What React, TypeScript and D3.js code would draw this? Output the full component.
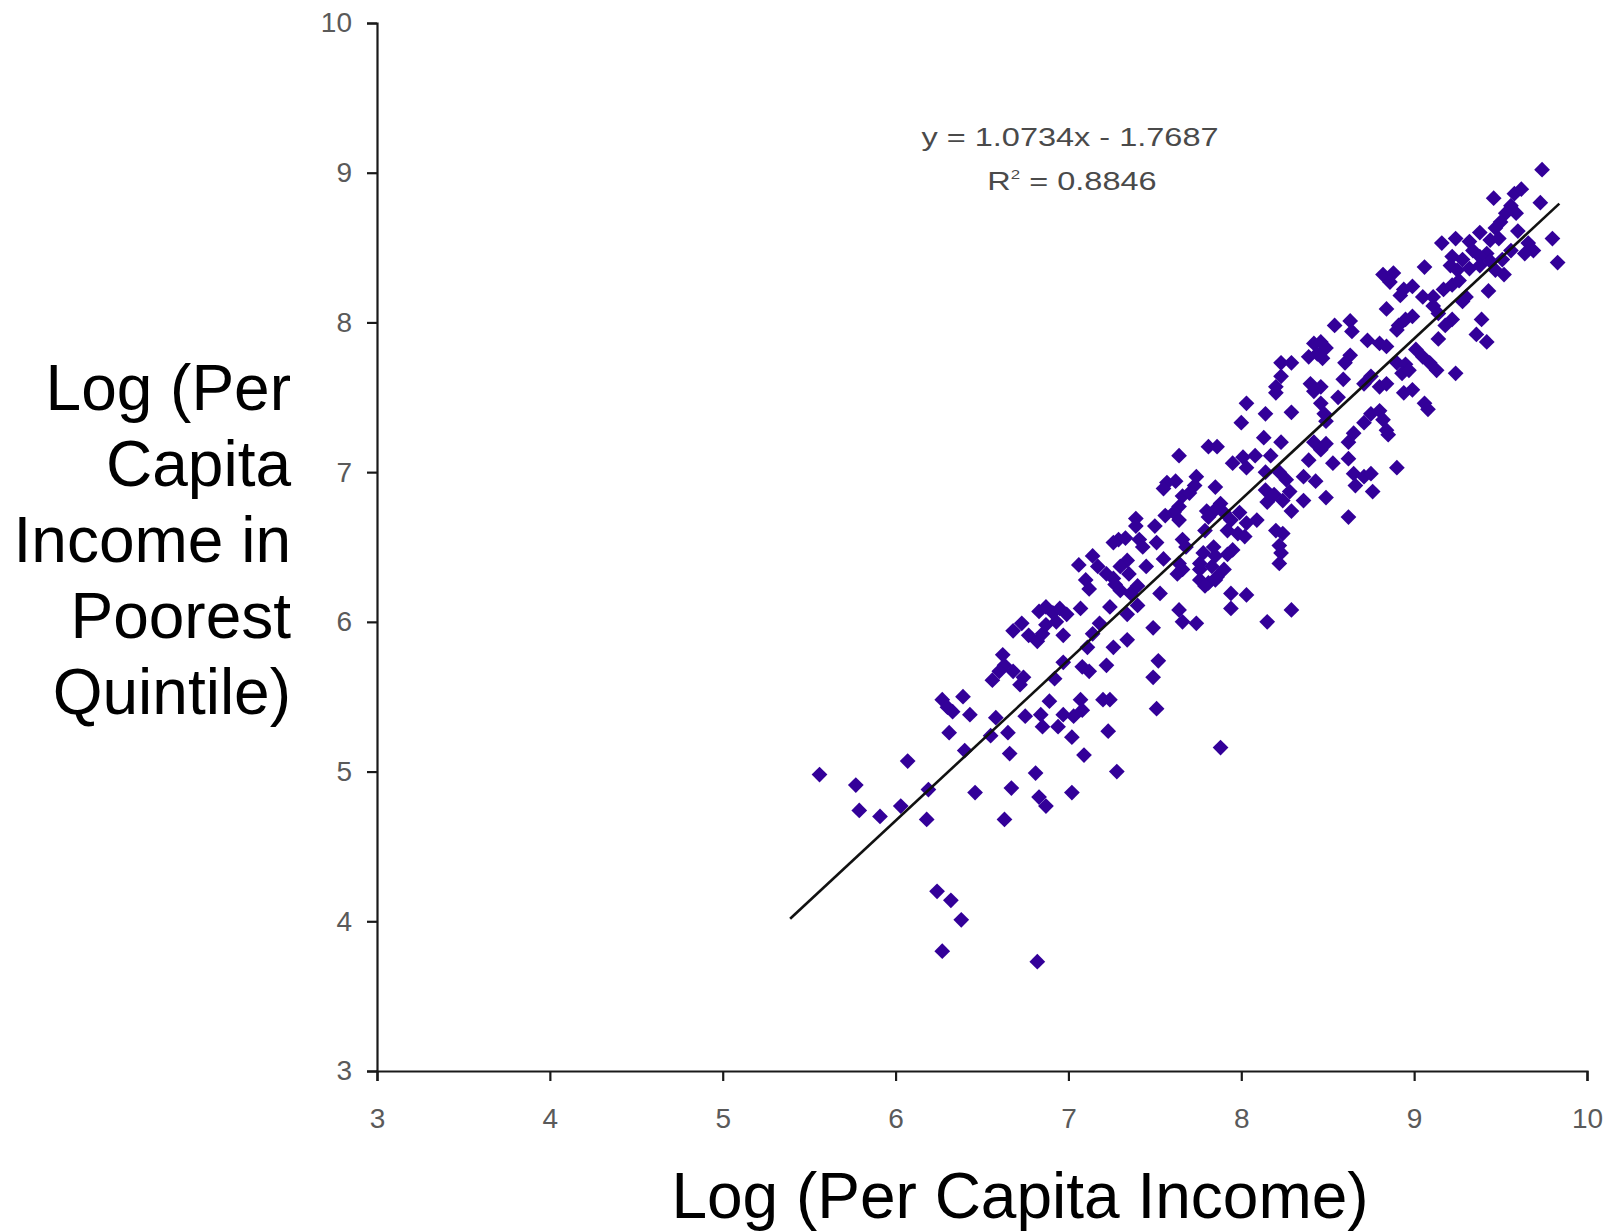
import React, { useEffect, useRef } from "react";
import * as d3 from "d3";

const xTicks = [3, 4, 5, 6, 7, 8, 9, 10];
const yTicks = [3, 4, 5, 6, 7, 8, 9, 10];

// Log (per capita income)
const incomeLog = [
  5.56, 5.77, 5.79, 5.91, 6.03, 6.07, 6.19, 6.18, 6.24, 6.32, 6.38, 6.27, 6.82, 6.63, 6.46, 6.67, 6.81, 6.83, 6.87, 7.02,
  7.28, 7.09, 7.23, 7.02, 6.66, 6.40, 6.31, 6.55, 6.65, 6.58, 6.43, 6.39, 6.27, 6.30, 6.33, 6.75, 6.84, 6.85, 6.89, 6.94,
  6.97, 7.03, 7.08, 7.07, 7.20, 7.24, 7.51, 7.49, 7.52, 7.49, 7.64, 7.66, 7.74, 7.22, 7.08, 7.12, 6.97, 6.92, 7.11, 7.26,
  7.34, 7.18, 7.34, 7.40, 7.24, 7.07, 6.97, 7.14, 6.62, 6.63, 6.60, 6.56, 6.68, 6.74, 6.72, 6.68, 6.73, 6.77, 6.82, 6.85,
  6.87, 6.93, 6.83, 6.87, 6.91, 6.95, 6.99,
  7.64, 7.81, 7.57, 7.62, 7.55, 7.74, 7.73, 7.66, 7.70, 7.64, 7.61, 7.64, 7.56, 7.39, 7.39, 7.50, 7.80, 7.79, 7.29, 7.26,
  7.33, 7.41, 7.43, 7.51, 7.66, 7.68, 7.55, 7.64, 7.66, 7.63, 7.78, 7.76, 7.76, 7.45, 7.34, 7.30, 7.35, 7.14, 7.17, 7.22,
  7.26, 7.06, 7.10, 7.12, 7.27, 7.30, 7.36, 7.40, 7.53,
  7.86, 8.13, 8.23, 8.17, 7.95, 8.01, 8.03, 8.08, 7.85, 8.14, 8.22, 8.26, 8.14, 8.19, 8.15, 8.28, 8.24, 8.36, 8.43, 8.36,
  8.29, 8.42, 8.49, 8.46, 8.39, 8.53, 8.62, 8.62, 8.65, 8.71, 8.66, 8.75, 8.76, 8.49, 8.62, 8.90, 8.85, 7.88, 7.85, 7.81,
  7.90, 7.94, 7.99, 8.03, 8.09, 7.92, 7.98, 8.02, 8.20, 8.24, 8.22, 8.23, 8.22, 7.84, 7.85, 7.92, 7.95, 7.76, 7.83, 7.90,
  7.86, 7.81, 7.79, 7.85, 7.94, 8.03, 7.94, 8.29, 8.15, 7.88,
  8.82, 8.88, 8.86, 8.94, 8.92, 8.84, 8.91, 8.90, 8.95, 8.54, 8.63, 8.64, 8.42, 8.46, 8.49, 8.44, 8.39, 8.47, 8.23, 8.29,
  8.63, 8.60, 8.73, 8.80, 8.84, 8.90, 8.95, 8.93, 8.23, 8.20, 8.20, 8.40, 8.46, 8.42, 8.59, 8.71, 8.75, 8.80, 8.84, 8.94,
  8.03, 8.00, 8.14, 8.29, 8.46, 8.48, 8.49, 8.56, 8.75, 8.80, 8.82, 8.84, 8.71, 8.65,
  9.74, 9.46, 9.58, 9.62, 9.73, 9.56, 9.59, 9.53, 9.50, 9.47, 9.60, 9.80, 9.83, 9.66, 9.69, 9.64, 9.16, 9.24, 9.32, 9.38,
  9.44, 9.49, 9.34, 9.42, 9.38, 9.22, 9.28, 9.21, 9.25, 9.32, 9.38, 9.44, 9.51, 9.56, 9.52, 9.47, 9.06, 8.99, 9.05, 9.11,
  9.17, 9.22, 9.26, 9.11, 9.14, 9.30, 9.28, 9.43, 8.99, 9.22, 9.18, 9.39, 9.14, 9.36, 9.42, 9.01, 9.05, 9.09, 9.13, 8.97,
  9.24, 9.06, 9.08, 8.99,
];

// Log (per capita income in poorest quintile)
const poorestLog = [
  4.98, 4.91, 4.74, 4.70, 4.77, 5.07, 4.88, 4.68, 4.20, 4.14, 4.01, 3.80, 3.73, 4.68, 4.86, 4.89, 4.99, 4.83, 4.77, 4.86,
  5.00, 5.11, 5.27, 5.23, 5.12, 5.14, 5.26, 5.24, 5.26, 5.36, 5.38, 5.50, 5.48, 5.43, 5.40, 5.37, 5.38, 5.30, 5.47, 5.30,
  5.38, 5.37, 5.41, 5.48, 5.48, 5.48, 5.42, 5.63, 5.74, 5.96, 6.08, 6.00, 5.99, 5.71, 5.70, 5.67, 5.73, 5.62, 5.83, 5.83,
  5.88, 5.99, 6.05, 6.11, 6.10, 6.09, 5.91, 5.92, 5.78, 5.71, 5.67, 5.61, 5.67, 5.63, 5.58, 5.94, 5.99, 5.91, 5.87, 5.92,
  5.98, 6.00, 6.07, 6.10, 6.06, 6.09, 6.05,
  7.11, 7.17, 6.93, 6.94, 6.89, 6.97, 6.91, 6.84, 6.86, 6.77, 6.73, 6.68, 6.71, 6.69, 6.64, 6.64, 6.74, 6.61, 6.55, 6.53,
  6.56, 6.55, 6.50, 6.53, 6.55, 6.50, 6.42, 6.39, 6.35, 6.32, 6.46, 6.39, 6.28, 6.37, 6.41, 6.37, 6.32, 6.44, 6.37, 6.32,
  6.29, 6.38, 6.28, 6.22, 6.25, 6.21, 6.19, 6.24, 6.19,
  7.17, 7.23, 7.20, 7.11, 7.06, 7.10, 7.03, 7.11, 6.90, 7.00, 7.00, 6.95, 6.88, 6.85, 6.80, 6.87, 6.81, 6.97, 6.94, 6.81,
  6.74, 7.20, 7.19, 7.15, 7.08, 7.06, 7.20, 7.09, 6.99, 6.97, 6.91, 6.99, 6.87, 6.83, 6.70, 7.03, 7.25, 6.79, 6.75, 6.70,
  6.73, 6.68, 6.73, 6.66, 6.68, 6.61, 6.59, 6.57, 6.61, 6.59, 6.51, 6.46, 6.39, 6.50, 6.44, 6.45, 6.48, 6.35, 6.37, 6.35,
  6.30, 6.26, 6.24, 6.28, 6.19, 6.18, 6.09, 6.08, 6.00, 5.16,
  8.32, 8.33, 8.27, 8.22, 8.18, 8.09, 7.98, 7.95, 8.02, 7.98, 8.01, 7.94, 7.86, 7.87, 7.83, 7.79, 7.77, 7.76, 7.73, 7.73,
  7.78, 7.73, 7.88, 7.86, 7.84, 7.73, 7.72, 7.66, 7.64, 7.57, 7.53, 7.59, 7.57, 7.54, 7.62, 7.59, 7.64, 7.57, 7.59, 7.53,
  7.46, 7.33, 7.39, 7.40, 7.46, 7.39, 7.34, 7.50, 7.39, 7.41, 7.35, 7.28, 7.33, 7.26,
  9.02, 8.83, 8.86, 8.89, 8.80, 8.78, 8.73, 8.73, 8.67, 8.63, 8.61, 8.56, 8.40, 8.53, 8.48, 8.46, 8.53, 8.56, 8.54, 8.60,
  8.55, 8.56, 8.48, 8.46, 8.44, 8.44, 8.42, 8.38, 8.35, 8.36, 8.38, 8.41, 8.42, 8.48, 8.32, 8.35, 8.37, 8.24, 8.17, 8.17,
  8.22, 8.25, 8.28, 8.11, 8.06, 8.17, 8.14, 8.21, 8.04, 8.02, 7.98, 8.02, 7.89, 7.92, 7.87, 7.82, 7.77, 7.73, 7.68, 7.68,
  7.66, 7.46, 7.42, 7.55,
];

const trendSlope = 1.0734;
const trendIntercept = -1.7687;
const trendRange = [5.39, 9.84];
const equationText = "y = 1.0734x - 1.7687";
const rSquaredText = "0.8846";
const yTitleLines = ["Log (Per", "Capita", "Income in", "Poorest", "Quintile)"];
const xTitle = "Log (Per Capita Income)";

const W = 1614;
const H = 1232;
const FONT = "'Liberation Sans', Arial, sans-serif";

export default function App() {
  const ref = useRef<SVGSVGElement | null>(null);

  useEffect(() => {
    const svg = d3.select(ref.current);
    svg.selectAll("*").remove();

    const x = d3.scaleLinear().domain([3, 10]).range([377, 1587]);
    const y = d3.scaleLinear().domain([3, 10]).range([1071, 23]);

    svg.append("rect").attr("width", W).attr("height", H).attr("fill", "#fff");

    // points
    const pts = incomeLog.map((v, i) => [v, poorestLog[i]]);
    const sym = d3.symbol().type(d3.symbolSquare).size(124);
    svg
      .append("g")
      .selectAll("path")
      .data(pts)
      .join("path")
      .attr("d", sym as any)
      .attr("transform", (d) => `translate(${x(d[0])},${y(d[1])}) rotate(45)`)
      .attr("fill", "#330099");

    // trend line
    const line = d3
      .line<number>()
      .x((d) => x(d))
      .y((d) => y(trendSlope * d + trendIntercept));
    svg
      .append("path")
      .attr("d", line(trendRange))
      .attr("stroke", "#111")
      .attr("stroke-width", 2.6)
      .attr("fill", "none");

    // axes
    const yAxis = svg
      .append("g")
      .attr("transform", "translate(377,0)")
      .call(d3.axisLeft(y).tickValues(yTicks).tickSize(10).tickPadding(15).tickFormat(d3.format("d")));
    const xAxis = svg
      .append("g")
      .attr("transform", "translate(0,1071)")
      .call(d3.axisBottom(x).tickValues(xTicks).tickSize(10).tickPadding(27).tickFormat(d3.format("d")));
    [yAxis, xAxis].forEach((g) => {
      g.selectAll("path, line").attr("stroke", "#1a1a1a").attr("stroke-width", 2.2);
      g.selectAll("text").attr("font-family", FONT).attr("font-size", 28).attr("fill", "#5a5a5a");
    });

    // equation
    const eq = svg.append("g").attr("transform", "translate(1070,0) scale(1.3,1)");
    eq.append("text")
      .attr("x", 0)
      .attr("y", 146)
      .attr("text-anchor", "middle")
      .attr("font-family", FONT)
      .attr("font-size", 25)
      .attr("fill", "#4a4a4a")
      .text(equationText);
    const eq2 = svg.append("g").attr("transform", "translate(1072,0) scale(1.3,1)");
    const t2 = eq2
      .append("text")
      .attr("x", 0)
      .attr("y", 190)
      .attr("text-anchor", "middle")
      .attr("font-family", FONT)
      .attr("font-size", 25)
      .attr("fill", "#4a4a4a");
    t2.append("tspan").text("R");
    t2.append("tspan").attr("font-size", 13).attr("dy", -11).text("2");
    t2.append("tspan").attr("dy", 11).text(" = " + rSquaredText);

    // titles
    const yt = svg
      .append("text")
      .attr("text-anchor", "end")
      .attr("font-family", FONT)
      .attr("font-size", 64)
      .attr("fill", "#000");
    yTitleLines.forEach((l, i) => {
      yt.append("tspan").attr("x", 291).attr("y", 410 + i * 76).text(l);
    });
    svg
      .append("text")
      .attr("x", 1020)
      .attr("y", 1218)
      .attr("text-anchor", "middle")
      .attr("font-family", FONT)
      .attr("font-size", 64)
      .attr("fill", "#000")
      .text(xTitle);
  }, []);

  return (
    <svg
      ref={ref}
      width={W}
      height={H}
      style={{ position: "absolute", left: 0, top: 0, display: "block" }}
    />
  );
}
